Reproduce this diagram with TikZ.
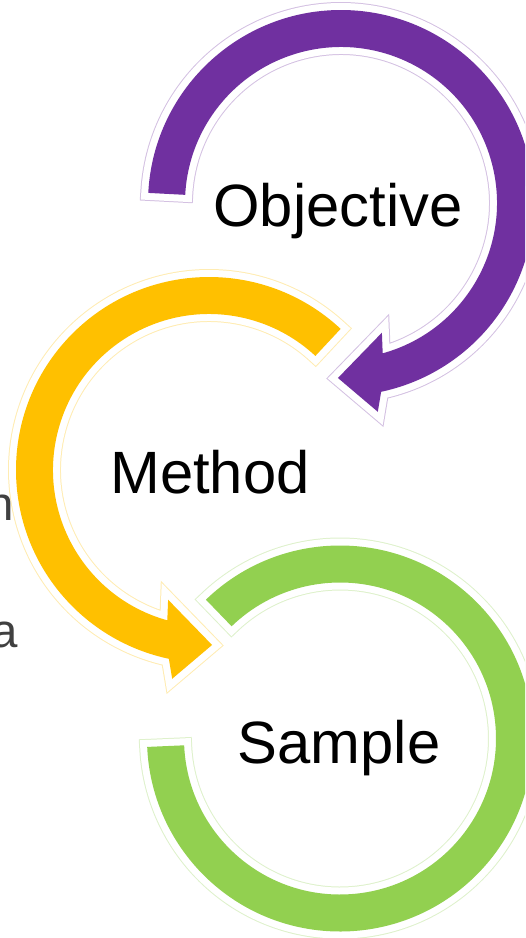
\documentclass[tikz,border=0pt]{standalone}
\usepackage{fontspec}
\setmainfont{Liberation Sans}
\usetikzlibrary{calc}
\definecolor{objpurple}{HTML}{7030A0}
\definecolor{methyellow}{HTML}{FFC000}
\definecolor{sampgreen}{HTML}{92D050}
\definecolor{sidegray}{HTML}{404040}
\tikzset{
	ring/.style={
		% The filling:
		fill=#1,
		% a faint line round the arrow, with white in between
		preaction={draw=#1!30, line width=3.2mm},
		preaction={draw=white, fill=white, line width=2.8mm},
	}}
\tikzset{
	label/.style={
		% The text:
		font=\fontsize{34}{40}\selectfont,
		text=black, inner sep=0pt,
		anchor=base,
	}}
\tikzset{
	cuttext/.style={
		font=\fontsize{27}{32}\selectfont,
		text=sidegray, inner sep=0pt,
		anchor=base east,
	}}

\begin{document}
\begin{tikzpicture}[x=0.02cm,y=-0.02cm]
	\useasboundingbox (0,0) rectangle (525,938);
	\clip (0,0) rectangle (525,938);
	\coordinate (objc) at (341,203);
	\coordinate (methc) at (209,470);
	\coordinate (sampc) at (340,738.5);
	% purple arrow
	\path[ring=objpurple] ($(objc)+(183:193)$) arc[start angle=183,end angle=438,radius=193]
		-- ($(objc)+(80:212)$) -- ($(objc)+(91:175)$) -- ($(objc)+(72.5:136)$)
		-- ($(objc)+(74.5:156)$) arc[start angle=434.5,end angle=183,radius=156] -- cycle;
	% yellow arrow
	\path[ring=methyellow] ($(methc)+(313:193)$) arc[start angle=313,end angle=102,radius=193]
		-- ($(methc)+(100:212)$) -- ($(methc)+(89:175)$) -- ($(methc)+(107.5:136)$)
		-- ($(methc)+(105.5:156)$) arc[start angle=105.5,end angle=313,radius=156] -- cycle;
	% green ring
	\path[ring=sampgreen] ($(sampc)+(226:193)$) arc[start angle=226,end angle=537.5,radius=193]
		-- ($(sampc)+(537.5:156)$) arc[start angle=537.5,end angle=226,radius=156] -- cycle;
	\node[label] (objective) at (338,226) {Objective};
	\node[label] (method) at (210,493) {Method};
	\node[label] (sample) at (339,763) {Sample};
	\node[cuttext] (leftn) at (14,520) {n};
	\node[cuttext] (lefta) at (18,647) {a};
\end{tikzpicture}
\end{document}
